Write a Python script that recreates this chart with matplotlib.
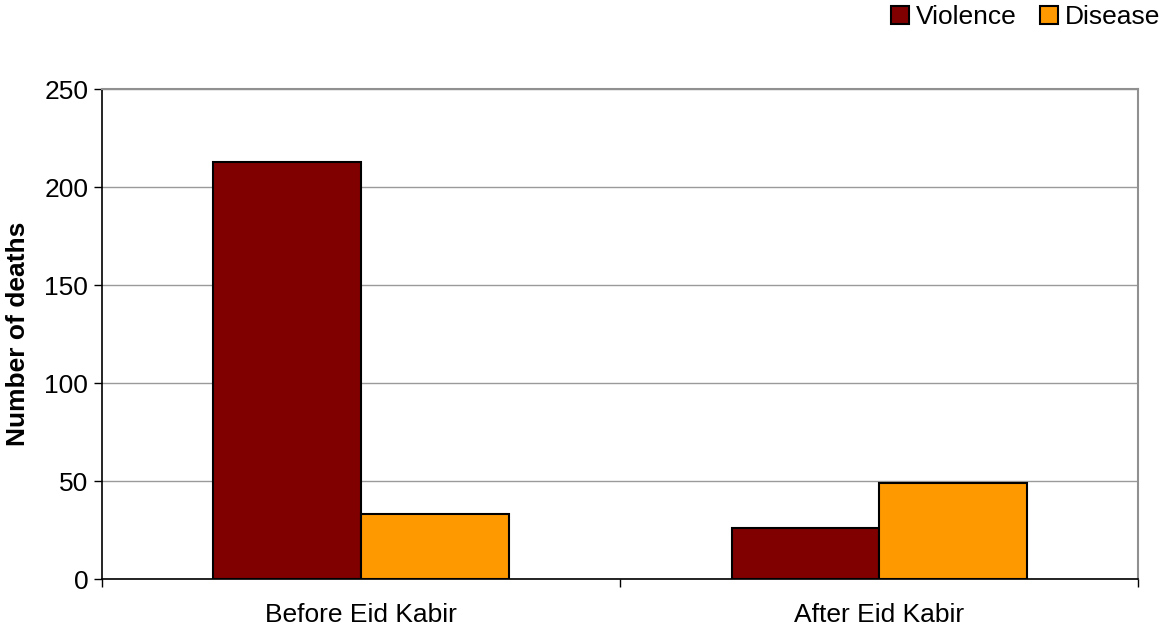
import numpy as np
import matplotlib.pyplot as plt

plt.rcParams["font.family"] = ["Liberation Sans", "DejaVu Sans"]

periods = ["Before Eid Kabir", "After Eid Kabir"]
violence = [213, 26]
disease = [33, 49]
yticks = [0, 50, 100, 150, 200, 250]

fig = plt.figure(figsize=(11.65, 6.28), dpi=100)
ax = fig.add_axes([0.0876, 0.078, 0.8894, 0.780])

x = np.arange(len(periods))
w = 0.285
ax.bar(x - w / 2, violence, w, color="#800000", edgecolor="black", linewidth=1.5,
       label="Violence", zorder=3)
ax.bar(x + w / 2, disease, w, color="#FF9900", edgecolor="black", linewidth=1.5,
       label="Disease", zorder=3)

ax.set_xlim(-0.5, len(periods) - 0.5)
ax.set_ylim(0, 250)
ax.set_yticks(yticks)
ax.tick_params(axis="y", direction="out", length=6, width=1, labelsize=19, pad=4)

# category labels in the middle, tick marks on the boundaries
ax.set_xticks(x)
ax.set_xticklabels(periods, fontsize=19)
ax.tick_params(axis="x", which="major", length=0, pad=17)
ax.set_xticks(np.arange(-0.5, len(periods)), minor=True)
ax.tick_params(axis="x", which="minor", direction="out", length=6, width=1)

ax.grid(True, axis="y", color="#9a9a9a", linewidth=1, zorder=0)
ax.spines["left"].set_color("black")
ax.spines["bottom"].set_color("black")
ax.spines["left"].set_linewidth(1.2)
ax.spines["bottom"].set_linewidth(1.2)
ax.spines["top"].set_color("#909090")
ax.spines["right"].set_color("#909090")
ax.spines["top"].set_linewidth(1.5)
ax.spines["right"].set_linewidth(1.5)

ax.set_ylabel("Number of deaths", fontsize=19, fontweight="bold", labelpad=10)

fig.legend(loc="upper right", bbox_to_anchor=(1.005, 1.009), ncol=2, frameon=False,
           fontsize=19, handlelength=0.68, handleheight=0.68, handletextpad=0.25,
           columnspacing=0.9, borderaxespad=0.0)

fig.savefig("out.png", dpi=100)
